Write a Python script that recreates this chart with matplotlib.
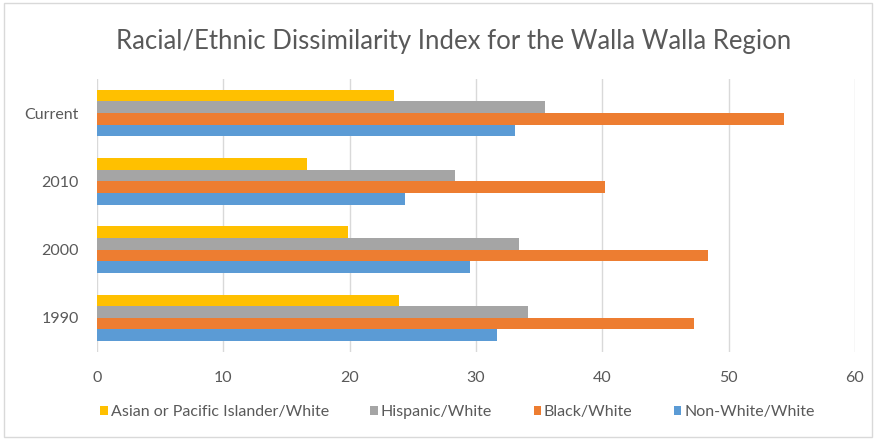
"""Racial/ethnic dissimilarity index, Walla Walla region, as grouped horizontal bars."""

import matplotlib

matplotlib.use("Agg")
import matplotlib.pyplot as plt
import numpy as np
from matplotlib.patches import Rectangle

periods = ["1990", "2000", "2010", "Current"]
series_names = [
    "Asian or Pacific Islander/White",
    "Hispanic/White",
    "Black/White",
    "Non-White/White",
]
asian_white = [23.9, 19.9, 16.6, 23.5]
hispanic_white = [34.1, 33.4, 28.3, 35.5]
black_white = [47.3, 48.4, 40.2, 54.4]
nonwhite_white = [31.7, 29.5, 24.4, 33.1]
x_ticks = [0, 10, 20, 30, 40, 50, 60]

colors = ["#FFC000", "#A5A5A5", "#ED7D31", "#5B9BD5"]
text_color = "#595959"

plt.rcParams["font.family"] = ["Lato", "DejaVu Sans"]

figure = plt.figure(figsize=(8.75, 4.41), dpi=100)
axis = figure.add_axes([0.111, 0.202, 0.866, 0.619])

y = np.arange(len(periods))
height = 0.17
all_series = [asian_white, hispanic_white, black_white, nonwhite_white]
# Yellow on top of each group, blue at the bottom.
for i, (name, values, color) in enumerate(zip(series_names, all_series, colors)):
    offset = (1.5 - i) * height
    axis.barh(y + offset, values, height=height, color=color, label=name, zorder=3)

axis.set_xlim(0, 60)
axis.set_ylim(-0.5, 3.5)
axis.set_xticks(x_ticks)
axis.set_yticks(y)
axis.set_yticklabels(periods)
axis.grid(axis="x", color="#D9D9D9", linewidth=1, zorder=0)
for spine in axis.spines.values():
    spine.set_visible(False)
axis.tick_params(axis="both", length=0, colors=text_color, labelsize=11.5)
axis.tick_params(axis="x", pad=14)
axis.tick_params(axis="y", pad=13)

figure.text(
    0.518, 0.905, "Racial/Ethnic Dissimilarity Index for the Walla Walla Region",
    ha="center", va="center", fontsize=18.5, color=text_color,
)

figure.legend(
    loc="center", bbox_to_anchor=(0.523, 0.065), ncol=4, frameon=False,
    handlelength=0.45, handleheight=0.5, handletextpad=0.2, columnspacing=2.6,
    fontsize=11.5, labelcolor=text_color,
)

figure.patches.append(
    Rectangle((0.004, 0.008), 0.992, 0.986, transform=figure.transFigure,
              fill=False, edgecolor="#D9D9D9", linewidth=1)
)

figure.savefig("out.png", dpi=100)
plt.close(figure)
